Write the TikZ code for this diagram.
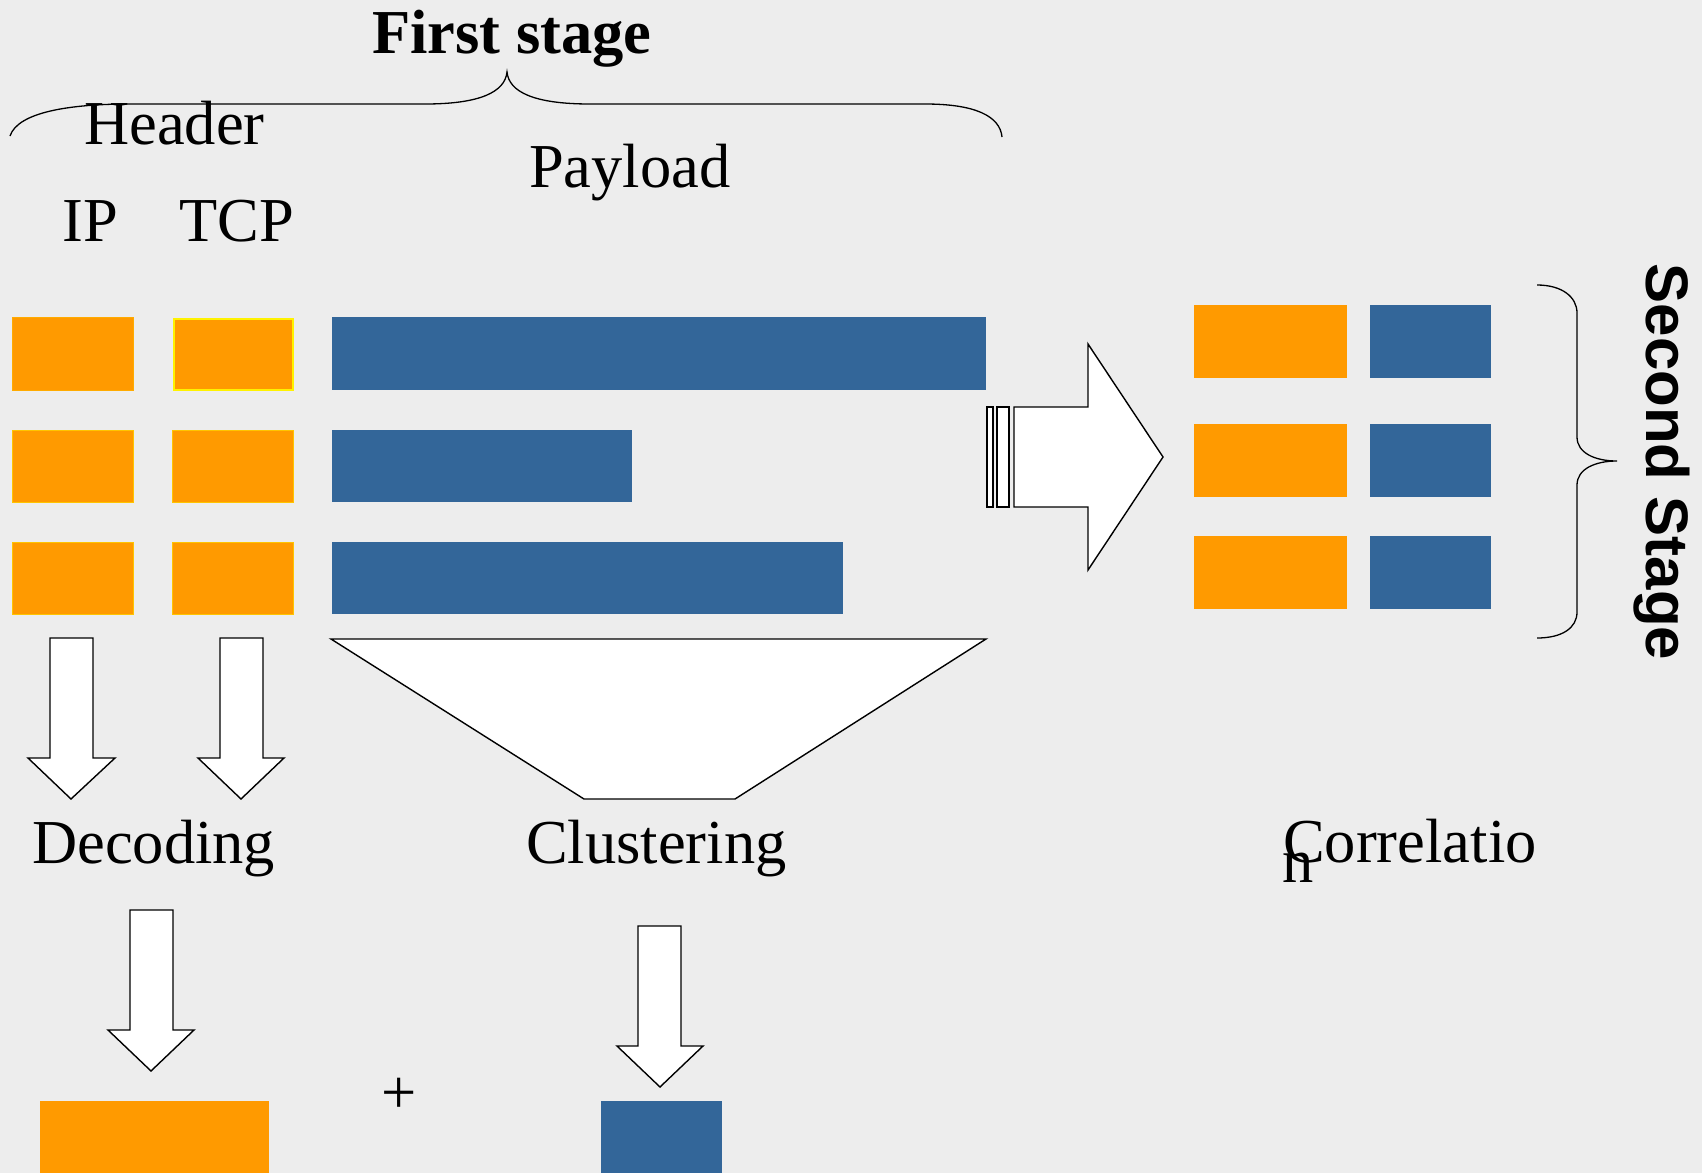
\documentclass[tikz,border=0pt]{standalone}
\usepackage{fontspec}
\setmainfont{Liberation Serif}
\newfontfamily\arialfont{Liberation Sans}
\definecolor{bgc}{HTML}{EDEDED}
\definecolor{org}{HTML}{FF9A00}
\definecolor{blu}{HTML}{336699}
\definecolor{orgedge}{HTML}{FFC400}
\begin{document}
\begin{tikzpicture}[x=1pt,y=-1pt,
  obox/.style={fill=org, draw=orgedge, line width=0.8pt, inner sep=0pt, anchor=north west},
  bbox/.style={fill=blu, draw=none, inner sep=0pt, anchor=north west},
  lbl/.style={inner sep=0pt, anchor=base west, font=\fontsize{62.5}{62.5}\selectfont},
  blockarrow/.style={draw=black, fill=white, line width=1.4pt, line join=miter},
  bracestyle/.style={draw=black, line width=1.3pt}]
\useasboundingbox (0,0) rectangle (1702,1173);
\fill[bgc] (0,0) rectangle (1702,1173);

% header boxes
\node[obox, draw=org!60!orgedge, minimum width=121pt, minimum height=73pt] (ip1) at (12,317) {};
\node[obox, minimum width=121pt, minimum height=72pt] (ip2) at (12,430) {};
\node[obox, minimum width=121pt, minimum height=72pt] (ip3) at (12,542) {};
\node[obox, draw=yellow, line width=1.6pt, minimum width=119pt, minimum height=71pt] (tcp1) at (173,318) {};
\node[obox, minimum width=121pt, minimum height=72pt] (tcp2) at (172,430) {};
\node[obox, minimum width=121pt, minimum height=72pt] (tcp3) at (172,542) {};
% payload bars
\node[bbox, minimum width=654pt, minimum height=73pt] (pl1) at (332,317) {};
\node[bbox, minimum width=300pt, minimum height=72pt] (pl2) at (332,430) {};
\node[bbox, minimum width=511pt, minimum height=72pt] (pl3) at (332,542) {};

% right boxes
\node[bbox, fill=org, minimum width=153pt, minimum height=73pt] (r1o) at (1194,305) {};
\node[bbox, fill=org, minimum width=153pt, minimum height=73pt] (r2o) at (1194,424) {};
\node[bbox, fill=org, minimum width=153pt, minimum height=73pt] (r3o) at (1194,536) {};
\node[bbox, minimum width=121pt, minimum height=73pt] (r1b) at (1370,305) {};
\node[bbox, minimum width=121pt, minimum height=73pt] (r2b) at (1370,424) {};
\node[bbox, minimum width=121pt, minimum height=73pt] (r3b) at (1370,536) {};

% bottom boxes
\node[bbox, fill=org, minimum width=229pt, minimum height=72pt] (hres) at (40,1101) {};
\node[bbox, minimum width=121pt, minimum height=72pt] (pres) at (601,1101) {};

% labels
\node[lbl, font=\fontsize{62.5}{62.5}\selectfont\bfseries] (first) at (372,53) {First stage};
\node[lbl] (header) at (84,144) {Header};
\node[lbl] (payload) at (529,187) {Payload};
\node[lbl] (ip) at (62,241) {IP};
\node[lbl] (tcp) at (179,241) {TCP};
\node[lbl] (dec) at (32,863) {Decoding};
\node[lbl] (clu) at (526,863) {Clustering};
\node[lbl] (cor) at (1283,862) {Correlatio};
\node[lbl] (corn) at (1282,882) {n};
\node[lbl, anchor=base] (plus) at (399,1113) {+};
\node[inner sep=0pt, anchor=base, rotate=-90, font=\arialfont\bfseries\fontsize{60}{60}\selectfont] (second) at (1646,462) {Second Stage};

% down arrows
\draw[blockarrow] (50,638) -- (93,638) -- (93,758) -- (115,758) -- (71,799) -- (28,758) -- (50,758) -- cycle;
\draw[blockarrow] (220,638) -- (263,638) -- (263,758) -- (284,758) -- (241,799) -- (198,758) -- (220,758) -- cycle;
\draw[blockarrow] (130,910) -- (173,910) -- (173,1030) -- (194,1030) -- (151,1071) -- (108,1030) -- (130,1030) -- cycle;
\draw[blockarrow] (638,926) -- (681,926) -- (681,1046) -- (703,1046) -- (660,1087) -- (617,1046) -- (638,1046) -- cycle;

% funnel
\draw[blockarrow] (331,639) -- (986,639) -- (735,799) -- (584,799) -- cycle;

% striped right arrow
\draw[blockarrow] (987,407) rectangle (993,507);
\draw[blockarrow] (997,407) rectangle (1009,507);
\draw[blockarrow] (1014,407) -- (1088,407) -- (1088,344) -- (1163,457) -- (1088,570) -- (1088,507) -- (1014,507) -- cycle;

% top brace
\draw[bracestyle] (10,136) .. controls (18,112) and (70,104) .. (130,104) -- (425,104)
  .. controls (480,104) and (505,92) .. (507,72)
  .. controls (509,92) and (534,104) .. (590,104) -- (925,104)
  .. controls (975,104) and (1000,116) .. (1002,137);

% right brace
\draw[bracestyle] (1537,285) .. controls (1562,285) and (1577,297) .. (1577,313) -- (1577,437)
  .. controls (1577,453) and (1595,461) .. (1617,461)
  .. controls (1595,461) and (1577,469) .. (1577,485) -- (1577,612)
  .. controls (1577,628) and (1562,638) .. (1537,638);
\end{tikzpicture}
\end{document}
